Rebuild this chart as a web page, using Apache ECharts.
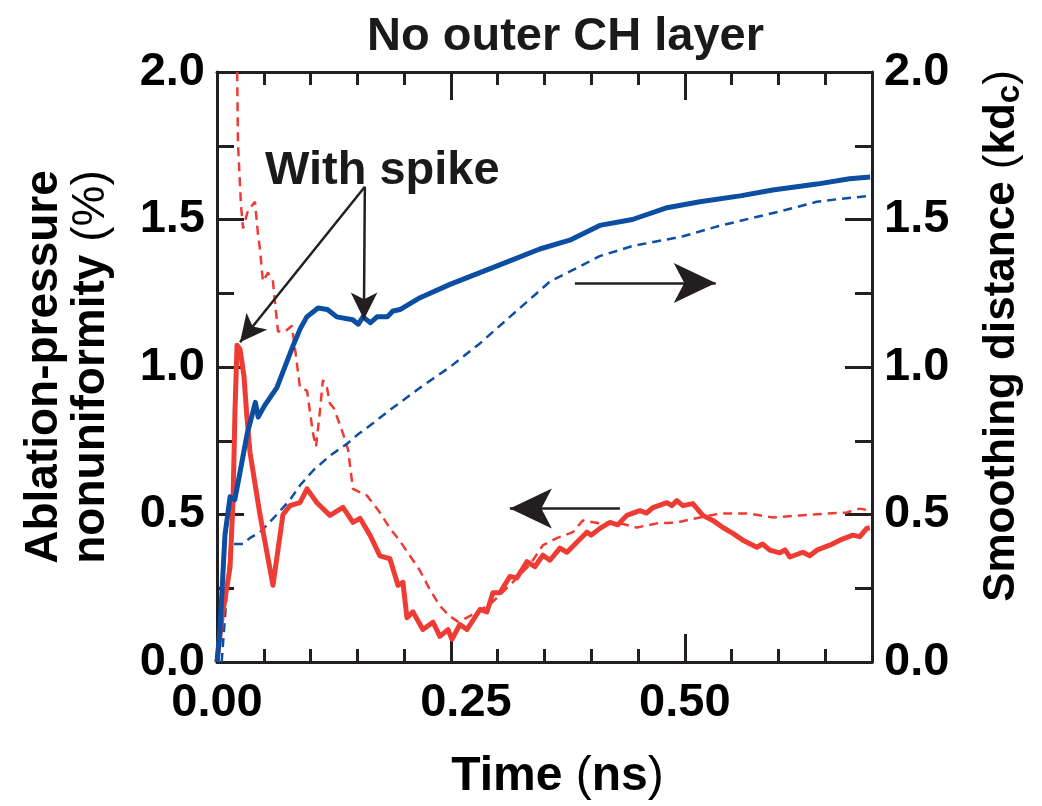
<!DOCTYPE html>
<html>
<head>
<meta charset="utf-8">
<script src="https://cdn.jsdelivr.net/npm/echarts@6/dist/echarts.min.js"></script>
<style>
html,body{margin:0;padding:0;background:#fff;}
#chart{width:1042px;height:806px;}
</style>
</head>
<body>
<div id="chart"></div>
<script>
// ---- Data (time in ns) ----
var blueSolidT = [0, 0.003, 0.0085, 0.014, 0.019, 0.025, 0.032, 0.041, 0.044, 0.051, 0.064, 0.081, 0.089, 0.096, 0.108, 0.118, 0.128, 0.145, 0.151, 0.156, 0.164, 0.171, 0.182, 0.188, 0.196, 0.217, 0.249, 0.281, 0.313, 0.345, 0.377, 0.409, 0.444, 0.481, 0.516, 0.559, 0.594, 0.641, 0.676, 0.698];
var blueSolidV = [0, 0.10, 0.43, 0.56, 0.55, 0.65, 0.77, 0.88, 0.83, 0.87, 0.93, 1.07, 1.13, 1.17, 1.20, 1.195, 1.17, 1.16, 1.145, 1.17, 1.15, 1.17, 1.17, 1.19, 1.195, 1.235, 1.28, 1.32, 1.36, 1.40, 1.43, 1.48, 1.50, 1.54, 1.56, 1.58, 1.60, 1.62, 1.638, 1.644];

var blueDashT = [0.005, 0.0096, 0.014, 0.017, 0.028, 0.035, 0.046, 0.064, 0.078, 0.089, 0.103, 0.121, 0.139, 0.150, 0.167, 0.185, 0.196, 0.217, 0.249, 0.281, 0.313, 0.356, 0.391, 0.409, 0.444, 0.498, 0.534, 0.569, 0.605, 0.641, 0.666, 0.698];
var blueDashV = [0, 0.20, 0.38, 0.40, 0.40, 0.42, 0.44, 0.50, 0.55, 0.60, 0.65, 0.70, 0.74, 0.77, 0.81, 0.855, 0.88, 0.93, 1.00, 1.08, 1.17, 1.29, 1.346, 1.376, 1.41, 1.443, 1.476, 1.503, 1.53, 1.56, 1.57, 1.58];

var redSolidT = [0, 0.0053, 0.0139, 0.0171, 0.0192, 0.0214, 0.0246, 0.0288, 0.032, 0.0353, 0.0459, 0.0598, 0.0705, 0.078, 0.0887, 0.0962, 0.1068, 0.1207, 0.1346, 0.1453, 0.1528, 0.1635, 0.1741, 0.1848, 0.1934, 0.1987, 0.203, 0.2094, 0.22, 0.2308, 0.2382, 0.2468, 0.2511, 0.2596, 0.2671, 0.281, 0.2885, 0.2949, 0.3024, 0.313, 0.3205, 0.3312, 0.3397, 0.3483, 0.3558, 0.3665, 0.374, 0.3846, 0.3953, 0.40, 0.4092, 0.4199, 0.4284, 0.438, 0.4519, 0.459, 0.4658, 0.4808, 0.486, 0.4915, 0.4979, 0.5085, 0.5192, 0.5299, 0.5406, 0.5513, 0.562, 0.5769, 0.583, 0.5908, 0.6015, 0.607, 0.6122, 0.6261, 0.6335, 0.641, 0.6549, 0.6656, 0.6795, 0.687, 0.6944, 0.6976];
var redSolidV = [0, 0.15, 0.32, 0.54, 0.85, 1.074, 1.06, 0.97, 0.83, 0.71, 0.50, 0.26, 0.50, 0.53, 0.54, 0.587, 0.54, 0.497, 0.524, 0.473, 0.487, 0.43, 0.36, 0.35, 0.26, 0.27, 0.15, 0.17, 0.11, 0.135, 0.087, 0.11, 0.077, 0.127, 0.11, 0.178, 0.17, 0.235, 0.235, 0.29, 0.285, 0.34, 0.323, 0.362, 0.345, 0.386, 0.372, 0.406, 0.44, 0.43, 0.453, 0.473, 0.465, 0.497, 0.513, 0.505, 0.523, 0.54, 0.53, 0.547, 0.53, 0.537, 0.497, 0.48, 0.456, 0.436, 0.413, 0.389, 0.40, 0.379, 0.37, 0.38, 0.356, 0.372, 0.36, 0.379, 0.396, 0.413, 0.43, 0.425, 0.453, 0.455];

var redDashT = [0.0214, 0.0224, 0.0256, 0.0278, 0.0331, 0.0406, 0.0438, 0.0459, 0.0491, 0.0545, 0.0598, 0.0652, 0.0726, 0.0801, 0.0855, 0.0887, 0.0962, 0.1026, 0.1058, 0.110, 0.1132, 0.1175, 0.1207, 0.125, 0.1346, 0.14, 0.1453, 0.1603, 0.1741, 0.1848, 0.1955, 0.2062, 0.2169, 0.2276, 0.2382, 0.2489, 0.2575, 0.267, 0.2778, 0.2917, 0.3024, 0.313, 0.3237, 0.3344, 0.3483, 0.3632, 0.3803, 0.391, 0.4092, 0.4274, 0.4487, 0.4701, 0.4915, 0.516, 0.5374, 0.5694, 0.594, 0.6229, 0.6517, 0.673, 0.687, 0.6977];
var redDashV = [2.05, 1.76, 1.55, 1.47, 1.53, 1.56, 1.45, 1.40, 1.29, 1.32, 1.29, 1.12, 1.12, 1.14, 1.01, 0.93, 0.92, 0.775, 0.73, 0.85, 0.956, 0.93, 0.876, 0.86, 0.775, 0.72, 0.587, 0.564, 0.507, 0.453, 0.41, 0.36, 0.31, 0.245, 0.19, 0.155, 0.137, 0.15, 0.17, 0.195, 0.228, 0.26, 0.295, 0.33, 0.396, 0.42, 0.44, 0.48, 0.47, 0.473, 0.456, 0.47, 0.473, 0.49, 0.503, 0.503, 0.49, 0.497, 0.503, 0.507, 0.52, 0.513];

var xLabelValues = [0, 0.25, 0.5];
var xMajorTicks = [0.25, 0.5];
var xMinorTicks = [0.05, 0.1, 0.15, 0.2, 0.25, 0.3, 0.35, 0.4, 0.45, 0.5, 0.55, 0.6, 0.65];

var titleText = 'No outer CH layer';
var xName = 'Time {n|(}ns{n|)}';
var annotationText = 'With spike';

// arrows in data coordinates: [from, to]
var arrowRight = [[0.3825, 1.285], [0.533, 1.285]];
var arrowLeft = [[0.4306, 0.52], [0.313, 0.52]];
var arrowDown = [[0.158, 1.611], [0.157, 1.161]];
var arrowDiag = [[0.158, 1.611], [0.0246, 1.084]];

function pairs(t, v) { return t.map(function (x, i) { return [x, v[i]]; }); }

var FONT = 'Liberation Sans, Arial, Helvetica, sans-serif';
var INK = '#231f20';
var RED = '#ee3b34';
var BLUE = '#0b4ea2';

var chart = echarts.init(document.getElementById('chart'), null, {renderer: 'canvas'});

var grid = {left: 217, right: 170, top: 72, bottom: 138, containLabel: false};

function xAx(pos, ticks, len, showLine, showLabel) {
  return {
    type: 'value', position: pos, min: 0, max: 0.7, interval: 0.05,
    axisLine: {show: showLine, onZero: false, lineStyle: {color: INK, width: 3}},
    axisTick: {show: true, inside: true, length: len, customValues: ticks, lineStyle: {color: INK, width: 3}},
    axisLabel: showLabel ? {
      show: true, customValues: xLabelValues, margin: 18,
      fontFamily: FONT, fontWeight: 'bold', fontSize: 47, color: '#000',
      formatter: function (v) {
        var s = v.toFixed(2);
        return Math.abs(v - 0.25) < 1e-6 ? '{m|' + s + '}' : s;
      },
      rich: {m: {fontFamily: FONT, fontWeight: 'bold', fontSize: 47, color: '#000', padding: [0, 0, 0, 30]}}
    } : {show: false},
    splitLine: {show: false}
  };
}

function yAx(pos) {
  return {
    type: 'value', position: pos, min: 0, max: 2, interval: 0.5,
    axisLine: {show: true, onZero: false, lineStyle: {color: INK, width: 3}},
    axisTick: {show: true, inside: true, length: 27, lineStyle: {color: INK, width: 3}},
    minorTick: {show: true, splitNumber: 2, length: 17, lineStyle: {color: INK, width: 3}},
    axisLabel: {show: true, margin: 12, fontFamily: FONT, fontWeight: 'bold', fontSize: 47, color: '#000',
      formatter: function (v) { return v.toFixed(1); }},
    splitLine: {show: false}, minorSplitLine: {show: false}
  };
}

var yLeft = yAx('left');
yLeft.name = '{b|Ablation-pressure}\n{b|nonuniformity }{n|(%)}';
yLeft.nameLocation = 'middle';
yLeft.nameGap = 102;
yLeft.nameTextStyle = {
  fontFamily: FONT, fontSize: 46, color: '#000',
  rich: {
    b: {fontFamily: FONT, fontSize: 46, fontWeight: 'bold', color: '#000', lineHeight: 47},
    n: {fontFamily: FONT, fontSize: 46, fontWeight: 'normal', color: '#000', lineHeight: 47}
  }
};

var yRight = yAx('right');
yRight.name = '{b|Smoothing distance }{n|(}{b|kd}{s|c}{n|)}';
yRight.nameLocation = 'middle';
yRight.nameGap = 106;
yRight.nameTextStyle = {
  fontFamily: FONT, fontSize: 44, color: '#000',
  padding: [0, 0, 0, 62],
  rich: {
    b: {fontFamily: FONT, fontSize: 44, fontWeight: 'bold', color: '#000', lineHeight: 48, verticalAlign: 'middle'},
    n: {fontFamily: FONT, fontSize: 44, fontWeight: 'normal', color: '#000', lineHeight: 48, verticalAlign: 'middle'},
    s: {fontFamily: FONT, fontSize: 33, fontWeight: 'bold', color: '#000', lineHeight: 48, verticalAlign: 'middle', padding: [15, 0, 0, 0]}
  }
};

var xBottom = xAx('bottom', xMinorTicks, 13, true, true);
xBottom.name = xName;
xBottom.nameLocation = 'middle';
xBottom.nameGap = 91;
xBottom.nameTextStyle = {
  fontFamily: FONT, fontSize: 48, fontWeight: 'bold', color: '#000',
  padding: [0, 0, 0, 26],
  rich: {n: {fontFamily: FONT, fontSize: 48, fontWeight: 'normal', color: '#000'}}
};

function arrowLine(seg, size) {
  return [
    {coord: seg[0], symbol: 'none'},
    {coord: seg[1], symbol: 'arrow', symbolSize: size}
  ];
}

var option = {
  animation: false,
  backgroundColor: '#fff',
  title: {
    text: titleText, left: 362, top: 9,
    textStyle: {fontFamily: FONT, fontSize: 47, fontWeight: 'bold', color: '#1a1a1a'}
  },
  grid: grid,
  xAxis: [
    xBottom,
    xAx('bottom', xMajorTicks, 28, false, false),
    xAx('top', xMinorTicks, 13, true, false),
    xAx('top', xMajorTicks, 28, false, false)
  ],
  yAxis: [yLeft, yRight],
  graphic: [{
    type: 'text', left: 265, top: 148, silent: true,
    style: {text: annotationText, font: 'bold 47px ' + FONT, fill: '#1a1a1a'}
  }],
  series: [
    {
      name: 'red dashed', type: 'line', xAxisIndex: 0, yAxisIndex: 0,
      data: pairs(redDashT, redDashV), showSymbol: false, clip: true,
      lineStyle: {color: RED, width: 2.5, type: [9, 6]}
    },
    {
      name: 'blue dashed', type: 'line', xAxisIndex: 0, yAxisIndex: 1,
      data: pairs(blueDashT, blueDashV), showSymbol: false, clip: true,
      lineStyle: {color: BLUE, width: 2.5, type: [9, 6]}
    },
    {
      name: 'red solid', type: 'line', xAxisIndex: 0, yAxisIndex: 0,
      data: pairs(redSolidT, redSolidV), showSymbol: false, clip: true,
      lineStyle: {color: RED, width: 5, join: 'round'}
    },
    {
      name: 'blue solid', type: 'line', xAxisIndex: 0, yAxisIndex: 1,
      data: pairs(blueSolidT, blueSolidV), showSymbol: false, clip: true,
      lineStyle: {color: BLUE, width: 5, join: 'round'},
      markLine: {
        silent: true, animation: false,
        label: {show: false},
        lineStyle: {color: INK, width: 2.5, type: 'solid'},
        emphasis: {disabled: true},
        data: [
          arrowLine(arrowRight, [30, 42]),
          arrowLine(arrowLeft, [30, 42]),
          arrowLine(arrowDown, [20, 27]),
          arrowLine(arrowDiag, [20, 27])
        ]
      }
    }
  ]
};

chart.setOption(option);
</script>
</body>
</html>
